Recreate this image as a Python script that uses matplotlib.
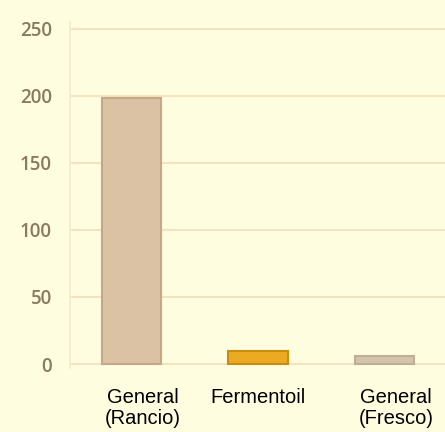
import matplotlib
matplotlib.use("Agg")
import matplotlib.pyplot as plt
import matplotlib.transforms as mtransforms

categories = ["General\n(Rancio)", "Fermentoil", "General\n(Fresco)"]
values = [198, 10, 6]
yticks = [0, 50, 100, 150, 200, 250]

bg = "#FFFDE0"
fills = ["#DCC2A4", "#EBAA22", "#D4C4AC"]
edges = ["#C6A888", "#C88E12", "#C0AE96"]

fig = plt.figure(figsize=(4.45, 4.32), dpi=100, facecolor=bg)
ax = fig.add_axes([0.157, 0.148, 0.843, 0.801], facecolor=bg)

x = list(range(len(categories)))
ax.bar(x, values, width=0.47, color=fills, edgecolor=edges, linewidth=1.5, zorder=3)

ax.set_xlim(-0.49, 2.48)
ax.set_ylim(-3, 255)
ax.set_yticks(yticks)
ax.set_yticklabels([str(v) for v in yticks], fontsize=13.5, color="#8A7A62",
                   family="Open Sans", fontweight="semibold")
ax.grid(axis="y", color="#F3E3C0", linewidth=1.5, zorder=0)
ax.set_axisbelow(True)

# category labels sit a little right of the bars, like the original
ax.set_xticks(x)
ax.set_xticklabels([])
nudges = [0.11, 0.0, 0.12]  # inches
for xi, name, dx in zip(x, categories, nudges):
    tr = ax.get_xaxis_transform() + mtransforms.ScaledTranslation(dx, -0.2, fig.dpi_scale_trans)
    ax.text(xi, 0, name, transform=tr, ha="center", va="top", fontsize=14.5,
            family="Liberation Sans", color="black", linespacing=1.1)

ax.tick_params(axis="both", length=0)
ax.tick_params(axis="y", pad=13)
for s in ["top", "right", "bottom"]:
    ax.spines[s].set_visible(False)
ax.spines["left"].set_color("#F6EBCF")
ax.spines["left"].set_linewidth(1.2)

fig.savefig("out.png", dpi=100, facecolor=bg)
